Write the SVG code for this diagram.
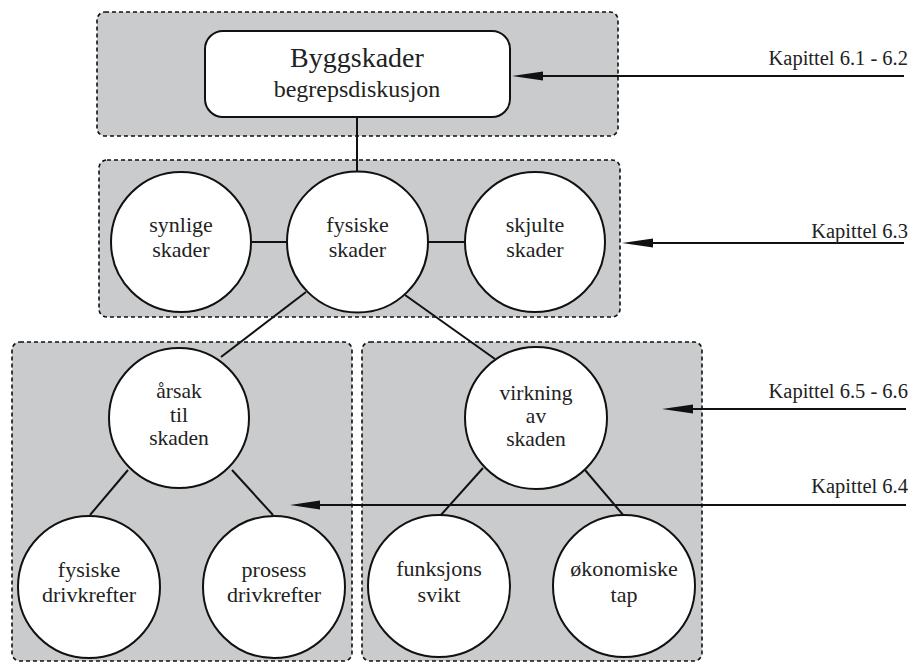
<svg xmlns="http://www.w3.org/2000/svg" width="912" height="662" viewBox="0 0 912 662">
  <style>
    .zone { fill: #c9cbcc; stroke: #111; stroke-width: 1.6; stroke-dasharray: 4 3; }
    .node { fill: #fff; stroke: #111; stroke-width: 2; }
    .link { stroke: #111; stroke-width: 2; fill: none; }
    .ref { stroke: #111; stroke-width: 2; fill: none; }
    .head { fill: #111; }
    text { font-family: "Liberation Serif", "Times New Roman", "DejaVu Serif", serif; fill: #222; }
    .lbl { font-size: 22px; text-anchor: middle; }
    .lbl3 { font-size: 21.5px; text-anchor: middle; }
    .cap { font-size: 20.5px; text-anchor: end; }
  </style>

  <!-- shaded chapter zones -->
  <g id="zones">
    <rect class="zone" x="97" y="12" width="521" height="124" rx="8"/>
    <rect class="zone" x="99" y="160" width="521" height="157" rx="8"/>
    <rect class="zone" x="12" y="342" width="340" height="319" rx="8"/>
    <rect class="zone" x="362" y="342" width="340" height="319" rx="8"/>
  </g>

  <!-- connectors between nodes -->
  <g id="connectors">
    <line class="link" x1="357" y1="117" x2="357" y2="172"/>
    <line class="link" x1="252" y1="242" x2="287" y2="242"/>
    <line class="link" x1="428" y1="242" x2="465" y2="242"/>
    <line class="link" x1="306" y1="292" x2="221" y2="357"/>
    <line class="link" x1="405" y1="295" x2="495" y2="359"/>
    <line class="link" x1="128" y1="470" x2="90" y2="515"/>
    <line class="link" x1="232" y1="470" x2="273" y2="515"/>
    <line class="link" x1="483" y1="468" x2="440" y2="516"/>
    <line class="link" x1="585" y1="470" x2="624" y2="516"/>
  </g>

  <g id="byggskader">
    <rect class="node" x="205" y="31" width="305" height="86" rx="18"/>
    <text x="357" y="67" font-size="28" text-anchor="middle">Byggskader</text>
    <text x="357" y="97" font-size="24" text-anchor="middle">begrepsdiskusjon</text>
  </g>

  <g id="synlige-skader">
    <circle class="node" cx="181" cy="242" r="70"/>
    <text class="lbl" x="181" y="232">synlige</text>
    <text class="lbl" x="181" y="257">skader</text>
  </g>

  <g id="fysiske-skader">
    <circle class="node" cx="357.5" cy="242" r="70.5"/>
    <text class="lbl" x="357.5" y="232">fysiske</text>
    <text class="lbl" x="357.5" y="257">skader</text>
  </g>

  <g id="skjulte-skader">
    <circle class="node" cx="535" cy="242" r="70"/>
    <text class="lbl" x="535" y="232">skjulte</text>
    <text class="lbl" x="535" y="257">skader</text>
  </g>

  <g id="arsak">
    <circle class="node" cx="179" cy="418" r="70"/>
    <text class="lbl3" x="179" y="398">årsak</text>
    <text class="lbl3" x="179" y="421.5">til</text>
    <text class="lbl3" x="179" y="445">skaden</text>
  </g>

  <g id="virkning">
    <circle class="node" cx="536" cy="418" r="71"/>
    <text class="lbl3" x="536" y="400">virkning</text>
    <text class="lbl3" x="536" y="423">av</text>
    <text class="lbl3" x="536" y="446">skaden</text>
  </g>

  <g id="fysiske-drivkrefter">
    <circle class="node" cx="89" cy="587" r="71"/>
    <text class="lbl" x="89" y="577">fysiske</text>
    <text class="lbl" x="89" y="602">drivkrefter</text>
  </g>

  <g id="prosess-drivkrefter">
    <circle class="node" cx="274" cy="587" r="71"/>
    <text class="lbl" x="274" y="577">prosess</text>
    <text class="lbl" x="274" y="602">drivkrefter</text>
  </g>

  <g id="funksjons-svikt">
    <circle class="node" cx="439" cy="586" r="71"/>
    <text class="lbl" x="439" y="576">funksjons</text>
    <text class="lbl" x="439" y="602">svikt</text>
  </g>

  <g id="okonomiske-tap">
    <circle class="node" cx="624" cy="586" r="71"/>
    <text class="lbl" x="624" y="576">økonomiske</text>
    <text class="lbl" x="624" y="602">tap</text>
  </g>

  <!-- chapter reference arrows -->
  <g id="chapter-refs">
    <line class="ref" x1="540" y1="76" x2="904" y2="76"/>
    <polygon class="head" points="512,76 543,71.5 543,80.5"/>
    <text class="cap" x="908" y="65">Kapittel 6.1 - 6.2</text>

    <line class="ref" x1="650" y1="243" x2="904" y2="243"/>
    <polygon class="head" points="622,243 653,238.5 653,247.5"/>
    <text class="cap" x="908" y="238">Kapittel 6.3</text>

    <line class="ref" x1="690" y1="409" x2="906" y2="409"/>
    <polygon class="head" points="662,409 693,404.5 693,413.5"/>
    <text class="cap" x="908" y="398">Kapittel 6.5 - 6.6</text>

    <line class="ref" x1="316" y1="505" x2="906" y2="505"/>
    <polygon class="head" points="290,505 320,500.5 320,509.5"/>
    <text class="cap" x="908" y="493">Kapittel 6.4</text>
  </g>
</svg>
